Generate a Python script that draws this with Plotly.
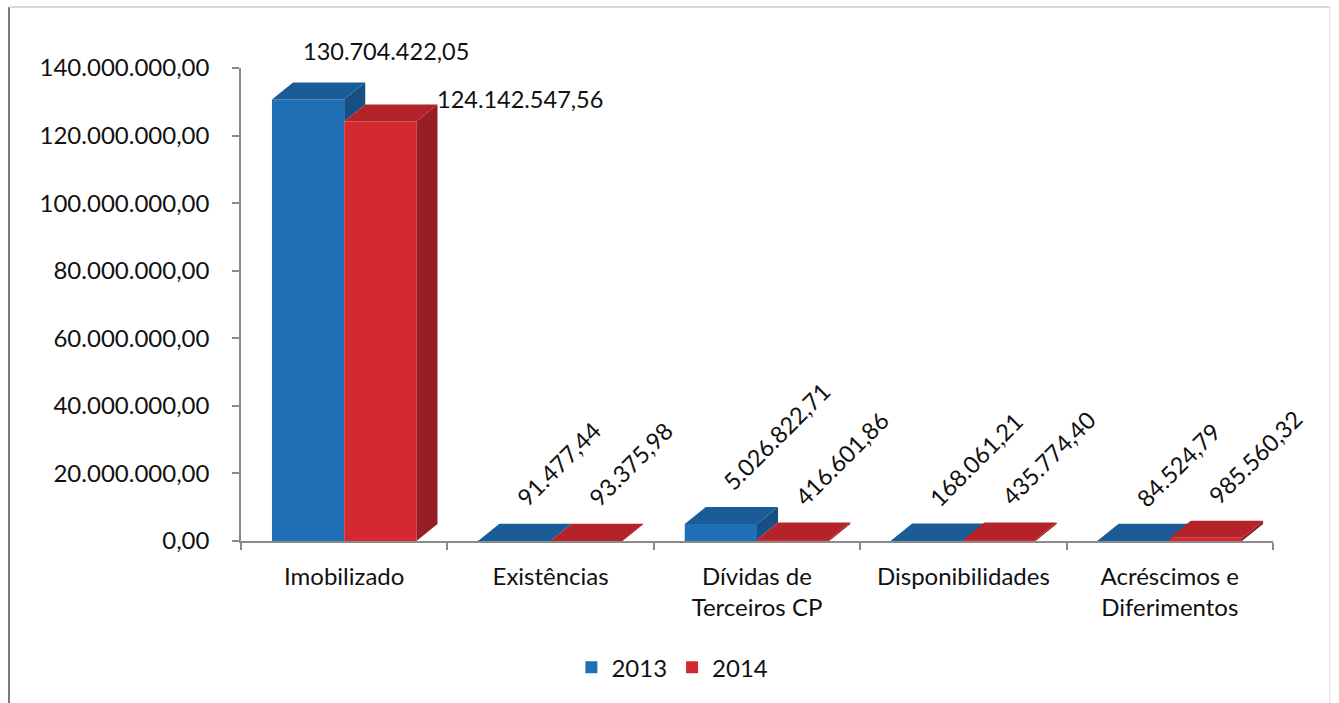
import plotly.graph_objects as go

# ---- data -------------------------------------------------------------
categories = ["Imobilizado", "Existências", "Dívidas de<br>Terceiros CP",
              "Disponibilidades", "Acréscimos e<br>Diferimentos"]
values_2013 = [130704422.05, 91477.44, 5026822.71, 168061.21, 84524.79]
values_2014 = [124142547.56, 93375.98, 416601.86, 435774.40, 985560.32]
series_names = ["2013", "2014"]
y_tick_values = [0, 20e6, 40e6, 60e6, 80e6, 100e6, 120e6, 140e6]

# ---- styling ----------------------------------------------------------
FONT = "Lato, 'Open Sans', sans-serif"
TEXT = "#111111"
AXIS = "#8a8a8a"
BAR_W = 0.35          # width of one front face, in category units
DEPTH_X = 0.102       # 3-D depth offset along x (category units)
DEPTH_Y = 5.03e6      # 3-D depth offset along y (value units)
Y_MAX = 140e6

faces = {
    "2013": dict(front="#1f70b4", top="#1a5c98", side="#174f84"),
    "2014": dict(front="#d42a2f", top="#b4232a", side="#981d24"),
}


def pt_number(v):
    """Format a number Portuguese style: 1.234.567,89"""
    s = f"{v:,.2f}"
    return s.replace(",", "X").replace(".", ",").replace("X", ".")


fig = go.Figure()


def add_series(name, vals, offset, other_vals, xref, yref):
    col = faces[name]
    xs = [i + offset for i in range(len(vals))]          # bar centres
    fig.add_trace(go.Bar(
        x=xs, y=vals, width=BAR_W, name=name,
        marker=dict(color=col["front"], line=dict(width=0)),
        xaxis=xref, yaxis=yref, hoverinfo="skip",
    ))
    top_x, top_y, side_x, side_y = [], [], [], []
    for i, v in enumerate(vals):
        xl = xs[i] - BAR_W / 2
        xr = xs[i] + BAR_W / 2
        top_x += [xl, xr, xr + DEPTH_X, xl + DEPTH_X, xl, None]
        top_y += [v, v, v + DEPTH_Y, v + DEPTH_Y, v, None]
        # the side of the left bar is hidden below the neighbouring bar's top
        base = 0.0
        if other_vals is not None:
            base = min(other_vals[i], v)
        side_x += [xr, xr + DEPTH_X, xr + DEPTH_X, xr, xr, None]
        side_y += [base, base + DEPTH_Y, v + DEPTH_Y, v, base, None]
    for px, py, c in ((side_x, side_y, col["side"]), (top_x, top_y, col["top"])):
        fig.add_trace(go.Scatter(
            x=px, y=py, mode="lines", fill="toself", fillcolor=c,
            line=dict(width=0, color=c), showlegend=False,
            hoverinfo="skip", xaxis=xref, yaxis=yref,
        ))
    return xs


xs13 = add_series("2013", values_2013, -BAR_W / 2, values_2014, "x", "y")
xs14 = add_series("2014", values_2014, BAR_W / 2, None, "x2", "y2")

# ---- data labels ------------------------------------------------------
for xs, vals, sname in ((xs13, values_2013, "2013"), (xs14, values_2014, "2014")):
    for i, v in enumerate(vals):
        if i == 0:
            if sname == "2013":
                fig.add_annotation(x=xs[i] - BAR_W / 2 + DEPTH_X, y=v + DEPTH_Y,
                                   text=pt_number(v), showarrow=False,
                                   xanchor="left", yanchor="middle",
                                   xshift=8, yshift=31)
            else:
                fig.add_annotation(x=xs[i] + BAR_W / 2 + DEPTH_X, y=v + DEPTH_Y,
                                   text=pt_number(v), showarrow=False,
                                   xanchor="left", yanchor="middle",
                                   xshift=-2, yshift=6)
        else:
            fig.add_annotation(x=xs[i] + DEPTH_X, y=v + DEPTH_Y,
                               text=pt_number(v), showarrow=False,
                               textangle=-45, xanchor="left", yanchor="bottom",
                               xshift=-27, yshift=9)

fig.update_annotations(font=dict(family=FONT, size=23.5, color=TEXT))

# ---- axes -------------------------------------------------------------
n = len(categories)
x_range = [-0.5, n - 0.5]
fig.update_layout(
    xaxis=dict(
        range=x_range, tickmode="array", tickvals=list(range(n)),
        ticktext=categories, ticks="", showline=True, linecolor=AXIS,
        linewidth=1.5, showgrid=False, zeroline=False,
        tickfont=dict(family=FONT, size=24, color=TEXT),
        ticklabelstandoff=13,
        minor=dict(tickmode="array",
                   tickvals=[i - 0.5 for i in range(n + 1)],
                   ticks="outside", ticklen=7, tickcolor=AXIS, tickwidth=1.5,
                   showgrid=False),
    ),
    yaxis=dict(
        range=[0, Y_MAX], tickmode="array", tickvals=y_tick_values,
        ticktext=[pt_number(v) for v in y_tick_values],
        ticks="outside", ticklen=7, tickcolor=AXIS, tickwidth=1.5,
        showline=True, linecolor=AXIS, linewidth=1.5,
        showgrid=False, zeroline=False,
        tickfont=dict(family=FONT, size=24, color=TEXT),
        ticklabelstandoff=18,
    ),
    xaxis2=dict(range=x_range, overlaying="x", visible=False),
    yaxis2=dict(range=[0, Y_MAX], overlaying="y", visible=False),
)

# floor edge at the right end of the category axis
fig.add_shape(type="line", xref="x", yref="y",
              x0=n - 0.5, y0=0, x1=n - 0.5 + DEPTH_X, y1=DEPTH_Y,
              line=dict(color=AXIS, width=1.5))

# chart frame
fig.add_shape(type="line", xref="paper", yref="paper",
              x0=-0.2248, y0=1.129, x1=-0.2248, y1=-0.36,
              line=dict(color="#7a7a7a", width=2))
fig.add_shape(type="line", xref="paper", yref="paper",
              x0=-0.2248, y0=1.129, x1=1.055, y1=1.129,
              line=dict(color="#d8d8d8", width=2))
fig.add_shape(type="line", xref="paper", yref="paper",
              x0=1.055, y0=1.129, x1=1.055, y1=-0.36,
              line=dict(color="#e6e6e6", width=1.5))

fig.update_layout(
    width=1339, height=703, autosize=False,
    margin=dict(l=241, r=66, t=68, b=162),
    paper_bgcolor="white", plot_bgcolor="white",
    barmode="overlay",
    showlegend=True,
    legend=dict(orientation="h", x=0.418, y=-0.268,
                xanchor="center", yanchor="middle",
                font=dict(family=FONT, size=24, color=TEXT),
                itemwidth=30, tracegroupgap=0),
    font=dict(family=FONT, color=TEXT),
)

fig.write_html("out.html")
